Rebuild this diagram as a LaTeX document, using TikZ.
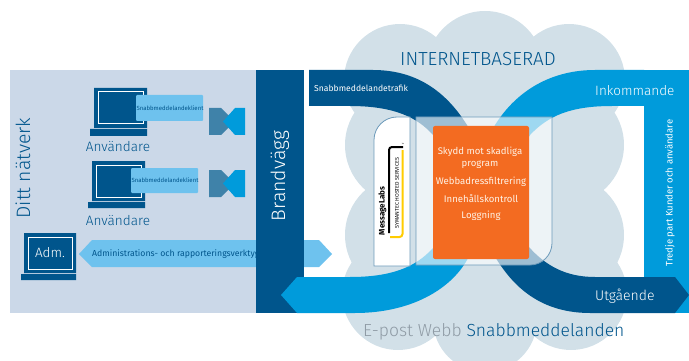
\documentclass[tikz,border=0pt]{standalone}
\usepackage{fontspec}
\setmainfont[BoldFont={Fira Sans}]{Fira Sans Light}
\newfontfamily\regf{Fira Sans}
\usetikzlibrary{calc}
\definecolor{panel}{HTML}{CBD8E8}
\definecolor{navy}{HTML}{00558C}
\definecolor{sky}{HTML}{009BDB}
\definecolor{pale}{HTML}{6EC2EE}
\definecolor{cloudc}{HTML}{D2E0E8}
\definecolor{edgec}{HTML}{6C9ABA}
\definecolor{orangec}{HTML}{F36B21}
\definecolor{graytxt}{HTML}{8F9BA5}
\definecolor{bowl}{HTML}{3F82A9}
\definecolor{goldc}{HTML}{FFCC00}
\tikzset{
  lab/.style={inner sep=0pt,font=\fontsize{#1}{#1}\selectfont},
  small/.style={inner sep=0pt,font=\regf\fontsize{#1}{#1}\selectfont},
  white text/.style={text=white},
  navy text/.style={text=navy},
}
\begin{document}
\begin{tikzpicture}[x=1pt,y=-1pt]
\useasboundingbox (0,0) rectangle (689,361);
\clip (0,0) rectangle (689,361);
% left panel
\fill[panel] (10,70) rectangle (256,313);
% cloud
\foreach \cx/\cy/\r in {400/80/56,485/70/59,569/80/56,405/145/60,564/145/60,405/235/60,564/235/60,398/294/56,485/320/52,571/294/56}
  \fill[cloudc] (\cx,\cy) circle[radius=\r];
\fill[cloudc] (420,100) rectangle (550,320);
% admin arrow
\fill[pale] (79,254) -- (92,240) -- (319,240) -- (332,254) -- (319,267) -- (92,267) -- cycle;
\node[small=8.7,navy text,anchor=west] (admtxt) at (92,254.5) {Administrations- och rapporteringsverktyg};
% firewall bar
\fill[navy] (256,70) rectangle (304,313);
\node[lab=19.5,white text,rotate=90] (fw) at (280,176) {Brandvägg};
\node[lab=19.4,navy text,rotate=90] (net) at (23,168) {Ditt nätverk};
% right bar
\fill[sky] (644,70) rectangle (689,313);
% bands
\fill[sky] (644,70) -- (595,70) .. controls (552,70) and (517,90) .. (495,125)
  -- (433,248) .. controls (415,268) and (390,277) .. (350,277) -- (297,277) -- (281,295) -- (297,313) -- (355,313)
  .. controls (410,313) and (450,290) .. (467,260) -- (530,135)
  .. controls (548,116) and (570,106) .. (612,106) -- (644,106) -- cycle;
\fill[navy] (309,70) -- (373,70) .. controls (415,70) and (445,90) .. (467,125)
  -- (529,247) .. controls (545,265) and (565,277) .. (595,277) -- (675,277) -- (689,295) -- (675,313) -- (590,313)
  .. controls (535,313) and (510,280) .. (497,260)
  -- (433,135) .. controls (418,118) and (395,106) .. (350,106) -- (309,106) -- cycle;
% bow ties
\foreach \n/\y in {a/108,b/170}{
  \fill[bowl] (209,\y) -- (221,\y) -- (235,\y+13.5) -- (221,\y+27) -- (209,\y+27) -- cycle;
  \fill[sky] (245,\y) -- (235,\y) -- (223,\y+13.5) -- (235,\y+27) -- (245,\y+27) -- cycle;
}
% laptops
\fill[navy] (94,88) rectangle (147,128) (90,129) rectangle (147,136);
\draw[white,line width=1pt] (98,92) rectangle (143,124);
\fill[navy] (92,161) rectangle (145,201) (88,202) rectangle (145,208);
\draw[white,line width=1pt] (96,165) rectangle (141,197);
\fill[navy] (24,233) rectangle (76,273) (21,274) rectangle (76,280);
\draw[white,line width=1pt] (28,237) rectangle (72,269);
\node[lab=13.5,white text] (adm) at (50,253) {Adm.};
\fill[pale,rounded corners=1pt] (136,95) rectangle (203,121);
\fill[pale,rounded corners=1pt] (131,168) rectangle (198,193);
\node[small=6,navy text] (k1) at (170,108) {Snabbmeddelandeklient};
\node[small=6,navy text] (k2) at (165,180) {Snabbmeddelandeklient};
\node[lab=13.6,navy text] (u1) at (118,147) {Användare};
\node[lab=13.6,navy text] (u2) at (118,221) {Användare};
% window and tag
\fill[white,fill opacity=.62,draw=edgec,draw opacity=1,line width=.8pt]
  (416,117) -- (552,117) -- (552,243) arc[start angle=0,end angle=90,radius=22] -- (416,265) -- cycle;
\fill[white,draw=edgec,line width=.8pt]
  (374,266) -- (374,140) arc[start angle=180,end angle=270,radius=23] -- (410,117) -- (410,266) -- cycle;
% orange
\fill[orangec,rounded corners=2pt] (433,126) rectangle (529,259);
\node[small=9.6,text=white!90!orange,align=center] (o1) at (480,158) {Skydd mot skadliga\\[2pt]program};
\node[small=9.6,text=white!90!orange] (o2) at (481,182) {Webbadressfiltrering};
\node[small=9.6,text=white!90!orange] (o3) at (481,199) {Innehållskontroll};
\node[small=9.6,text=white!90!orange] (o4) at (481,216) {Loggning};
% logo
\draw[goldc,line width=2pt,rounded corners=3pt] (402.5,150) -- (402.5,237) -- (390,237);
\draw[black,line width=2pt,rounded corners=3pt] (389,233) -- (389,147) -- (403,147);
\node[small=8,rotate=90,font=\regf\fontsize{8}{8}\selectfont\bfseries,text=black] (ml) at (382.5,211) {MessageLabs};
\node[small=5.4,rotate=90,text=black] (sym) at (397,193) {SYMANTEC HOSTED SERVICES};
\node[lab=3,text=black] (tm) at (403,144) {™};
% texts
\node[lab=18.9,navy text] (inet) at (478,59) {INTERNETBASERAD};
\node[small=8.6,white text,anchor=west] (st) at (314,88) {Snabbmeddelandetrafik};
\node[lab=13.5,white text,anchor=west] (in) at (595,91) {Inkommande};
\node[lab=14,white text,anchor=west] (ut) at (595,296) {Utgående};
\node[small=9.5,white text,rotate=90] (tp) at (670,193) {Tredje part Kunder och användare};
\node[lab=17.5,anchor=west] (bt) at (363,332) {\textcolor{graytxt}{E-post Webb} \textcolor{navy}{Snabbmeddelanden}};
\end{tikzpicture}
\end{document}
